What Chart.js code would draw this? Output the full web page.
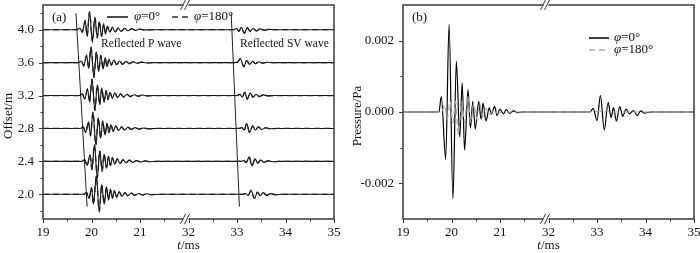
<!DOCTYPE html>
<html>
<head>
<meta charset="utf-8">
<script src="https://cdn.jsdelivr.net/npm/chart.js@4.4.1/dist/chart.umd.min.js"></script>
<style>
  body { margin: 0; background: #fff; width: 700px; height: 253px; overflow: hidden; }
  .box { position: absolute; top: 0; width: 350px; height: 253px; }
</style>
</head>
<body>
<div class="box" style="left:0"><canvas id="chartA"></canvas></div>
<div class="box" style="left:350px"><canvas id="chartB"></canvas></div>
<script>
// tick labels of the broken time axis (19-22 | 32-35)
const xTickLabels = [19, 20, 21, 32, 33, 34, 35];
const offsetTicks = [2.0, 2.4, 2.8, 3.2, 3.6, 4.0];
const pressureTicks = [-0.002, 0, 0.002];
const offsets = [4.0, 3.6, 3.2, 2.8, 2.4, 2.0];

// (a) reflected P wave per offset: [time ms, deviation from offset]
const pWave40 = [[19.70,0],[19.76,0.02],[19.81,-0.03],[19.87,0.11],[19.91,-0.08],[19.96,0.22],[20.02,-0.15],[20.07,0.15],[20.12,-0.10],[20.16,0.10],[20.21,-0.08],[20.25,0.07],[20.29,-0.05],[20.33,0.04],[20.38,-0.03],[20.43,0.03],[20.49,-0.025],[20.55,0.02],[20.61,-0.02],[20.68,0.015],[20.75,-0.012],[20.83,0.012],[20.91,-0.008],[21.00,0.006],[21.10,-0.004],[21.25,0]];
const pWave36 = [[19.73,0],[19.79,0.02],[19.84,-0.04],[19.90,0.09],[19.94,-0.07],[19.99,0.19],[20.05,-0.18],[20.10,0.13],[20.15,-0.11],[20.19,0.09],[20.24,-0.08],[20.28,0.06],[20.32,-0.05],[20.36,0.04],[20.41,-0.03],[20.46,0.03],[20.52,-0.025],[20.58,0.02],[20.64,-0.02],[20.71,0.015],[20.78,-0.012],[20.86,0.01],[20.94,-0.008],[21.03,0.006],[21.13,-0.004],[21.28,0]];
const pWave32 = [[19.75,0],[19.81,0.02],[19.86,-0.04],[19.92,0.08],[19.96,-0.08],[20.01,0.20],[20.07,-0.18],[20.12,0.13],[20.17,-0.11],[20.21,0.09],[20.26,-0.08],[20.30,0.06],[20.34,-0.05],[20.38,0.04],[20.43,-0.03],[20.48,0.03],[20.54,-0.025],[20.60,0.02],[20.66,-0.018],[20.73,0.015],[20.80,-0.012],[20.88,0.01],[20.96,-0.008],[21.05,0.006],[21.15,-0.004],[21.30,0]];
const pWave28 = [[19.77,0],[19.83,0.02],[19.88,-0.05],[19.94,0.08],[19.98,-0.09],[20.03,0.20],[20.09,-0.20],[20.14,0.13],[20.19,-0.12],[20.23,0.09],[20.28,-0.08],[20.32,0.06],[20.36,-0.05],[20.40,0.045],[20.45,-0.035],[20.50,0.03],[20.56,-0.025],[20.62,0.02],[20.68,-0.018],[20.75,0.015],[20.82,-0.012],[20.90,0.01],[20.98,-0.008],[21.07,0.006],[21.17,-0.004],[21.32,0]];
const pWave24 = [[19.80,0],[19.86,0.02],[19.91,-0.05],[19.97,0.08],[20.01,-0.10],[20.06,0.20],[20.12,-0.20],[20.17,0.13],[20.22,-0.12],[20.26,0.09],[20.31,-0.08],[20.35,0.06],[20.39,-0.05],[20.43,0.045],[20.48,-0.035],[20.53,0.03],[20.59,-0.025],[20.65,0.02],[20.71,-0.018],[20.78,0.015],[20.85,-0.012],[20.93,0.01],[21.01,-0.008],[21.10,0.006],[21.20,-0.004],[21.35,0]];
const pWave20 = [[19.84,0],[19.90,0.02],[19.95,-0.05],[20.00,0.08],[20.04,-0.12],[20.10,0.22],[20.16,-0.21],[20.21,0.12],[20.26,-0.12],[20.31,0.09],[20.35,-0.07],[20.39,0.06],[20.43,-0.05],[20.47,0.045],[20.52,-0.035],[20.57,0.03],[20.63,-0.025],[20.69,0.02],[20.75,-0.018],[20.82,0.015],[20.89,-0.012],[20.97,0.01],[21.05,-0.008],[21.14,0.006],[21.24,-0.004],[21.40,0]];

// (a) reflected SV wave per offset
const svWave40 = [[32.93,0],[32.99,0.015],[33.04,-0.02],[33.09,0.03],[33.15,-0.045],[33.21,0.025],[33.27,-0.02],[33.33,0.015],[33.40,-0.015],[33.47,0.01],[33.56,-0.006],[33.66,0.004],[33.80,0]];
const svWave36 = [[32.96,0],[33.02,0.01],[33.07,0.05],[33.14,-0.05],[33.20,0.025],[33.26,-0.02],[33.32,0.015],[33.38,-0.012],[33.45,0.01],[33.53,-0.006],[33.62,0.004],[33.75,0]];
const svWave32 = [[33.00,0],[33.06,0.015],[33.11,-0.02],[33.16,0.04],[33.21,-0.045],[33.27,0.03],[33.33,-0.02],[33.39,0.015],[33.46,-0.012],[33.54,0.008],[33.64,-0.004],[33.78,0]];
const svWave28 = [[33.04,0],[33.10,0.01],[33.15,-0.02],[33.20,0.06],[33.26,-0.05],[33.32,0.03],[33.38,-0.02],[33.44,0.02],[33.51,-0.012],[33.59,0.008],[33.69,-0.004],[33.82,0]];
const svWave24 = [[33.08,0],[33.14,0.01],[33.19,-0.015],[33.25,0.055],[33.31,-0.055],[33.37,0.03],[33.43,-0.02],[33.49,0.015],[33.56,-0.012],[33.64,0.008],[33.74,-0.004],[33.87,0]];
const svWave20 = [[33.12,0],[33.18,0.01],[33.23,-0.015],[33.29,0.05],[33.36,-0.05],[33.42,0.025],[33.48,-0.015],[33.54,0.02],[33.61,-0.012],[33.69,0.008],[33.79,-0.004],[33.92,0]];

// (a) arrival lines: [time, offset]
const pArrivalLine = [[19.68, 4.20], [19.91, 1.85]];
const svArrivalLine = [[32.88, 4.20], [33.05, 1.85]];

// (b) pressure, phi = 0 deg
const pressure0 = [[19.74,0],[19.79,0.00043],[19.88,-0.00133],[19.95,0.00245],[20.03,-0.00243],[20.10,0.00142],[20.17,-0.0007],[20.22,0.00082],[20.27,-0.00107],[20.34,0.00063],[20.39,-0.00045],[20.44,0.0003],[20.49,-0.00048],[20.56,0.0003],[20.61,-0.0002],[20.65,0.00025],[20.71,-0.00025],[20.78,0.00012],[20.82,-0.00006],[20.89,0.00015],[20.94,-0.0001],[21.00,0.00008],[21.07,-0.00005],[21.13,0.00007],[21.20,-0.00004],[21.28,0.00003],[21.36,-0.00002],[21.45,0],
  [32.86,0],[32.92,0.0001],[33.00,-0.00024],[33.07,0.00046],[33.15,-0.0005],[33.23,0.00027],[33.29,-0.00015],[33.34,0.00012],[33.40,-0.00025],[33.47,0.00015],[33.53,-0.00012],[33.60,0.00008],[33.67,-0.00005],[33.75,0.00004],[33.83,-0.0001],[33.90,0.00003],[33.98,-0.00003],[34.10,0]];
// (b) pressure, phi = 180 deg
const pressure180 = [[19.80,0],[19.86,0.0002],[19.91,-0.0002],[19.97,0.0003],[20.03,-0.0003],[20.08,0.0003],[20.14,-0.00065],[20.21,0.0003],[20.27,-0.0003],[20.33,0.00045],[20.40,-0.0003],[20.46,0.00025],[20.52,-0.0002],[20.58,0.00025],[20.64,-0.00015],[20.71,0.0001],[20.78,-0.00008],[20.86,0.00005],[20.95,-0.00003],[21.05,0],
  [32.95,0],[33.05,0.00004],[33.12,-0.00004],[33.20,0.00003],[33.30,0]];

const pWaves = [pWave40, pWave36, pWave32, pWave28, pWave24, pWave20];
const svWaves = [svWave40, svWave36, svWave32, svWave28, svWave24, svWave20];

// broken axis: 19..22 then 32..35 share one linear scale 0..6
function axisPos(t) {
  return t <= 22 ? t - 19 : t - 29;
}
function toPoints(pairs, base) {
  return pairs.map(([t, v]) => ({ x: axisPos(t), y: base + v }));
}

const serif = "'Liberation Serif', 'Times New Roman', serif";
Chart.defaults.font.family = serif;
Chart.defaults.color = '#111';

function richText(ctx, parts, x, y) {
  for (const [txt, italic] of parts) {
    ctx.font = (italic ? 'italic ' : '') + '13px ' + serif;
    ctx.fillText(txt, x, y);
    x += ctx.measureText(txt).width;
  }
}

function decorations(cfg) {
  return {
    id: 'decor',
    afterDraw(chart) {
      const { ctx, chartArea: a, scales: { x, y } } = chart;
      ctx.save();
      ctx.strokeStyle = '#3a3a3a';
      ctx.lineWidth = 1;
      ctx.beginPath();
      for (let u = 0; u <= 6; u += 0.5) {
        const px = Math.round(x.getPixelForValue(u)) + 0.5;
        ctx.moveTo(px, a.bottom);
        ctx.lineTo(px, a.bottom + (u % 1 ? 2.5 : 4));
      }
      cfg.yMajor.forEach(v => {
        const py = Math.round(y.getPixelForValue(v)) + 0.5;
        ctx.moveTo(a.left, py); ctx.lineTo(a.left - 4, py);
      });
      cfg.yMinor.forEach(v => {
        const py = Math.round(y.getPixelForValue(v)) + 0.5;
        ctx.moveTo(a.left, py); ctx.lineTo(a.left - 2.5, py);
      });
      ctx.stroke();

      ctx.lineWidth = 1.5;
      ctx.strokeRect(a.left, a.top, a.right - a.left, a.bottom - a.top);

      // axis break marks
      const bx = x.getPixelForValue(3) - 2;
      [a.top, a.bottom].forEach(by => {
        ctx.fillStyle = '#fff';
        ctx.fillRect(bx - 3, by - 2, 5, 4);
        ctx.lineWidth = 1;
        ctx.beginPath();
        ctx.moveTo(bx - 6, by + 5); ctx.lineTo(bx - 1, by - 5);
        ctx.moveTo(bx - 2, by + 5); ctx.lineTo(bx + 3, by - 5);
        ctx.stroke();
      });

      ctx.fillStyle = '#111';
      ctx.textBaseline = 'middle';
      ctx.font = '13px ' + serif;
      ctx.fillText(cfg.tag, a.left + 9, a.top + 13);

      // axis titles
      ctx.textAlign = 'left';
      const cx = (a.left + a.right) / 2;
      ctx.font = 'italic 13px ' + serif;
      const wt = ctx.measureText('t').width;
      ctx.font = '13px ' + serif;
      const wm = ctx.measureText('/ms').width;
      richText(ctx, [['t', true], ['/ms', false]], cx - (wt + wm) / 2, 246);
      ctx.save();
      ctx.translate(cfg.yTitleX, 116);
      ctx.rotate(-Math.PI / 2);
      ctx.textAlign = 'center';
      ctx.font = '13px ' + serif;
      ctx.fillText(cfg.yTitle, 0, 0);
      ctx.restore();

      cfg.extra(ctx, a);
      ctx.restore();
    }
  };
}

function baseOptions(yMin, yMax, yTicks, yFmt, yWidth, pad) {
  return {
    responsive: true,
    maintainAspectRatio: false,
    animation: false,
    devicePixelRatio: 1,
    layout: { padding: pad },
    plugins: { legend: { display: false }, tooltip: { enabled: false } },
    elements: { point: { radius: 0 } },
    scales: {
      x: {
        type: 'linear', min: 0, max: 6,
        grid: { display: false, drawTicks: false },
        border: { display: false },
        ticks: { stepSize: 1, padding: 6, font: { size: 13 }, color: '#111',
                 callback: v => xTickLabels[v], maxRotation: 0 },
        afterFit: s => { s.height = 34; s.paddingLeft = 0; s.paddingRight = 0; }
      },
      y: {
        type: 'linear', min: yMin, max: yMax,
        grid: { display: false, drawTicks: false },
        border: { display: false },
        ticks: { padding: 9, font: { size: 13 }, color: '#111', callback: yFmt },
        afterBuildTicks: s => { s.ticks = yTicks.map(v => ({ value: v })); },
        afterFit: s => { s.width = yWidth; s.paddingTop = 0; s.paddingBottom = 0; }
      }
    }
  };
}

// ---- panel (a)
const datasetsA = [];
offsets.forEach((o, i) => {
  const pts = toPoints([[19, 0], ...pWaves[i], ...svWaves[i], [35, 0]], o);
  datasetsA.push({ data: pts, borderColor: '#222', borderWidth: 1.3, borderDash: [6, 4],
                   cubicInterpolationMode: 'monotone' });
  datasetsA.push({ data: pts, borderColor: '#111', borderWidth: 1.1,
                   cubicInterpolationMode: 'monotone' });
});
[pArrivalLine, svArrivalLine].forEach(line => {
  datasetsA.push({ data: line.map(([t, v]) => ({ x: axisPos(t), y: v })),
                   borderColor: '#222', borderWidth: 1 });
});

new Chart(document.getElementById('chartA'), {
  type: 'line',
  data: { datasets: datasetsA },
  options: baseOptions(1.7, 4.3, offsetTicks, v => v.toFixed(1), 43,
                       { top: 5, right: 16, left: 0, bottom: 0 }),
  plugins: [decorations({
    tag: '(a)', yTitle: 'Offset/m', yTitleX: 9,
    yMajor: offsetTicks, yMinor: [1.8, 2.2, 2.6, 3.0, 3.4, 3.8, 4.2],
    extra(ctx, a) {
      ctx.strokeStyle = '#111';
      ctx.lineWidth = 1.5;
      ctx.beginPath(); ctx.moveTo(107, 17); ctx.lineTo(128, 17); ctx.stroke();
      ctx.setLineDash([6, 4]);
      ctx.strokeStyle = '#333';
      ctx.beginPath(); ctx.moveTo(172, 17); ctx.lineTo(190, 17); ctx.stroke();
      ctx.setLineDash([]);
      richText(ctx, [['φ', true], ['=0°', false]], 134, 17);
      richText(ctx, [['φ', true], ['=180°', false]], 194, 17);
      ctx.font = '11.5px ' + serif;
      ctx.fillText('Reflected P wave', 101, 44);
      ctx.fillText('Reflected SV wave', 240, 44);
    }
  })]
});

// ---- panel (b)
const datasetsB = [
  { data: toPoints([[19, 0], ...pressure180, [35, 0]], 0), borderColor: '#aaa',
    borderWidth: 1.2, borderDash: [6, 4], cubicInterpolationMode: 'monotone' },
  { data: toPoints([[19, 0], ...pressure0, [35, 0]], 0), borderColor: '#000',
    borderWidth: 1.2, cubicInterpolationMode: 'monotone' }
];

new Chart(document.getElementById('chartB'), {
  type: 'line',
  data: { datasets: datasetsB },
  options: baseOptions(-0.003, 0.003, pressureTicks, v => v.toFixed(3), 53,
                       { top: 5, right: 6, left: 0, bottom: 0 }),
  plugins: [decorations({
    tag: '(b)', yTitle: 'Pressure/Pa', yTitleX: 8,
    yMajor: pressureTicks, yMinor: [-0.001, 0.001],
    extra(ctx, a) {
      ctx.lineWidth = 1.5;
      ctx.strokeStyle = '#000';
      ctx.beginPath(); ctx.moveTo(239, 38); ctx.lineTo(259, 38); ctx.stroke();
      ctx.strokeStyle = '#aaa';
      ctx.setLineDash([6, 4]);
      ctx.beginPath(); ctx.moveTo(239, 50); ctx.lineTo(259, 50); ctx.stroke();
      ctx.setLineDash([]);
      richText(ctx, [['φ', true], ['=0°', false]], 264, 38);
      richText(ctx, [['φ', true], ['=180°', false]], 264, 50);
    }
  })]
});
</script>
</body>
</html>
